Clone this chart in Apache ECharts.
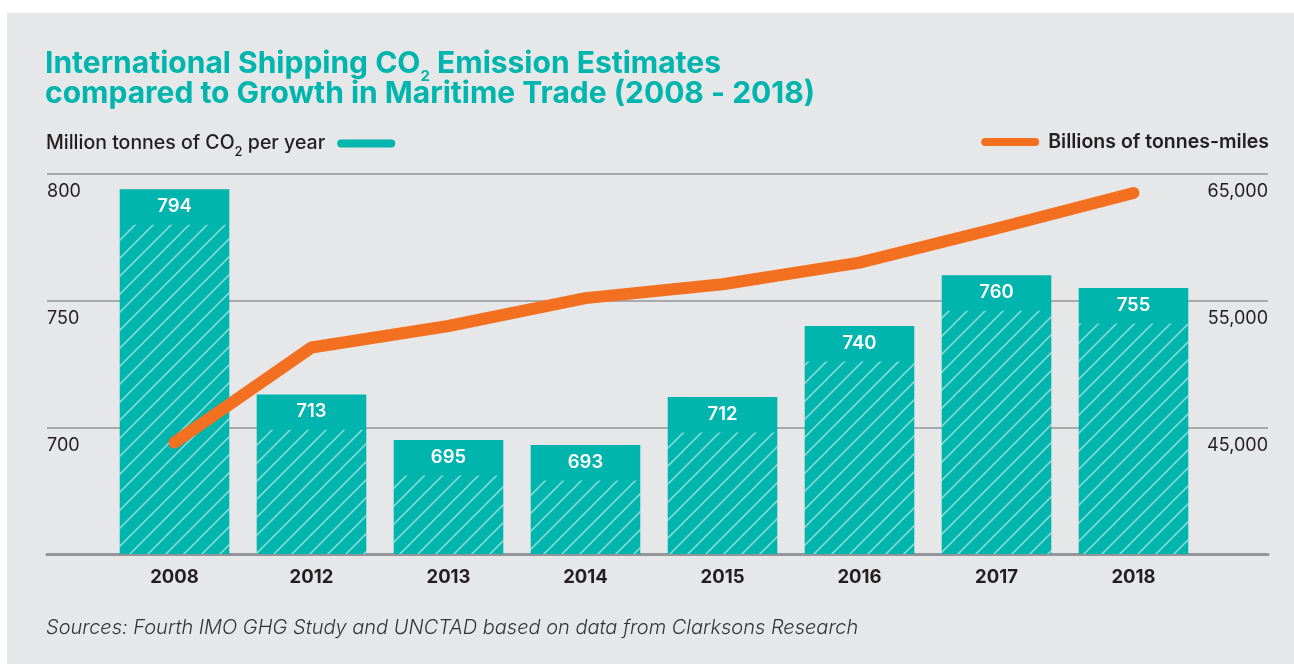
<!DOCTYPE html>
<html>
<head>
<meta charset="utf-8">
<script src="https://cdn.jsdelivr.net/npm/echarts@6/dist/echarts.min.js"></script>
<style>
html,body{margin:0;padding:0;background:#ffffff;}
#chart{width:1294px;height:664px;}
</style>
</head>
<body>
<div id="chart"></div>
<script>
// ---- data ----
const years = ['2008', '2012', '2013', '2014', '2015', '2016', '2017', '2018'];
const co2Emissions = [794, 713, 695, 693, 712, 740, 760, 755];          // million tonnes CO2 per year
const tonneMiles = [43800, 51300, 53000, 55200, 56300, 58000, 60700, 63500]; // billions of tonne-miles
const leftTicks = [650, 700, 750, 800];
const rightTicks = [35000, 45000, 55000, 65000];

// ---- style ----
const TEAL = '#00b5ad';
const ORANGE = '#f37021';
const TEXT = '#231f20';
const FONT = 'Inter, "Noto Sans", sans-serif';
const BAND = 14; // depth (in axis units) of the solid top band of each bar

function makeHatch() {
  const s = 18;
  const c = document.createElement('canvas');
  c.width = s; c.height = s;
  const g = c.getContext('2d');
  g.strokeStyle = 'rgba(255,255,255,0.5)';
  g.lineWidth = 1.6;
  g.beginPath();
  g.moveTo(-1, s + 1); g.lineTo(s + 1, -1);
  g.moveTo(-2, 2); g.lineTo(2, -2);
  g.moveTo(s - 2, s + 2); g.lineTo(s + 2, s - 2);
  g.stroke();
  return c;
}

const chart = echarts.init(document.getElementById('chart'), null, {renderer: 'canvas'});
const hatched = co2Emissions.map(v => v - BAND);
const fmtThousands = v => String(v).replace(/\B(?=(\d{3})+(?!\d))/g, ',');

const option = {
  backgroundColor: '#ffffff',
  animation: false,
  graphic: [{
    type: 'rect', left: 7, top: 13, z: -10,
    shape: {width: 1287, height: 651},
    style: {fill: '#e6e7e8'}
  }],
  title: [{
    left: 45, top: 49, padding: 0,
    text: '{a|International Shipping CO}{s|2}{a| Emission Estimates}\n{a|compared to Growth in Maritime Trade (2008 - 2018)}',
    textStyle: {
      rich: {
        a: {fontFamily: FONT, fontSize: 30, fontWeight: 700, color: TEAL, lineHeight: 30},
        s: {fontFamily: FONT, fontSize: 15, fontWeight: 700, color: TEAL, lineHeight: 6, padding: [24, 0, 0, 0]}
      }
    }
  }, {
    left: 46, top: 616, padding: 0,
    text: 'Sources: Fourth IMO GHG Study and UNCTAD based on data from Clarksons Research',
    textStyle: {fontFamily: FONT, fontSize: 20, fontStyle: 'italic', fontWeight: 300, color: '#333333', lineHeight: 24}
  }],
  legend: [{
    data: ['co2'],
    left: 46, top: 128, padding: 0,
    align: 'right',
    itemWidth: 58, itemHeight: 8,
    icon: 'path://M4,0 H54 A4,4 0 0 1 54,8 H4 A4,4 0 0 1 4,0 Z',
    formatter: () => '{t|Million tonnes of CO}{s|2}{t| per year}',
    textStyle: {
      padding: [0, 7, 0, 0],
      rich: {
        t: {fontFamily: FONT, fontSize: 19.5, fontWeight: 500, color: TEXT, lineHeight: 22},
        s: {fontFamily: FONT, fontSize: 13, fontWeight: 500, color: TEXT, lineHeight: 4, padding: [18, 0, 0, 0]}
      }
    }
  }, {
    data: ['trade'],
    right: 25, top: 131, padding: 0,
    itemWidth: 58, itemHeight: 8,
    icon: 'path://M4,0 H54 A4,4 0 0 1 54,8 H4 A4,4 0 0 1 4,0 Z',
    formatter: () => 'Billions of tonnes-miles',
    textStyle: {fontFamily: FONT, fontSize: 19.5, fontWeight: 600, color: TEXT, padding: [0, 0, 0, 4], lineHeight: 22}
  }],
  grid: [
    {left: 47, right: 26, top: 174, bottom: 110, containLabel: false},
    {left: 106, right: 92, top: 174, bottom: 110, containLabel: false}
  ],
  xAxis: [{
    gridIndex: 0, type: 'category', data: years,
    axisLine: {show: true, lineStyle: {color: '#939598', width: 3}},
    axisTick: {show: false}, axisLabel: {show: false}, splitLine: {show: false}
  }, {
    gridIndex: 1, type: 'category', data: years,
    axisLine: {show: false}, axisTick: {show: false},
    axisLabel: {fontFamily: FONT, fontSize: 18.5, fontWeight: 700, color: TEXT, margin: 14}
  }],
  yAxis: [{
    gridIndex: 0, type: 'value', position: 'left',
    min: leftTicks[0], max: leftTicks[leftTicks.length - 1], interval: 50,
    axisLine: {show: false}, axisTick: {show: false},
    splitLine: {show: true, lineStyle: {color: '#a7a9ac', width: 2}},
    axisLabel: {
      showMinLabel: false, align: 'left', verticalAlign: 'top', margin: 0,
      padding: [9, 0, 0, 0],
      fontFamily: FONT, fontSize: 18, color: TEXT
    }
  }, {
    gridIndex: 0, type: 'value', position: 'right',
    min: rightTicks[0], max: rightTicks[rightTicks.length - 1], interval: 10000,
    axisLine: {show: false}, axisTick: {show: false}, splitLine: {show: false},
    axisLabel: {
      showMinLabel: false, align: 'right', verticalAlign: 'top', margin: 0,
      padding: [9, 0, 0, 0],
      fontFamily: FONT, fontSize: 18, color: TEXT,
      formatter: fmtThousands
    }
  }, {
    gridIndex: 1, type: 'value', position: 'left',
    min: leftTicks[0], max: leftTicks[leftTicks.length - 1], interval: 50,
    show: false, splitLine: {show: false}
  }, {
    gridIndex: 1, type: 'value', position: 'right',
    min: rightTicks[0], max: rightTicks[rightTicks.length - 1], interval: 10000,
    show: false, splitLine: {show: false}
  }],
  series: [{
    name: 'co2', type: 'bar', xAxisIndex: 1, yAxisIndex: 2,
    data: co2Emissions, barWidth: '80%', barGap: '-100%',
    itemStyle: {color: TEAL},
    label: {
      show: true, position: 'insideTop', distance: 8,
      fontFamily: FONT, fontSize: 18.5, fontWeight: 600, color: '#ffffff'
    },
    z: 2
  }, {
    name: 'hatch', type: 'bar', xAxisIndex: 1, yAxisIndex: 2,
    data: hatched, barWidth: '80%', barGap: '-100%', silent: true,
    itemStyle: {color: {image: makeHatch(), repeat: 'repeat'}},
    z: 3
  }, {
    name: 'trade', type: 'line', xAxisIndex: 1, yAxisIndex: 3,
    data: tonneMiles, symbol: 'none',
    itemStyle: {color: ORANGE},
    lineStyle: {color: ORANGE, width: 12, cap: 'round', join: 'round'},
    z: 5
  }]
};
chart.setOption(option);
</script>
</body>
</html>
